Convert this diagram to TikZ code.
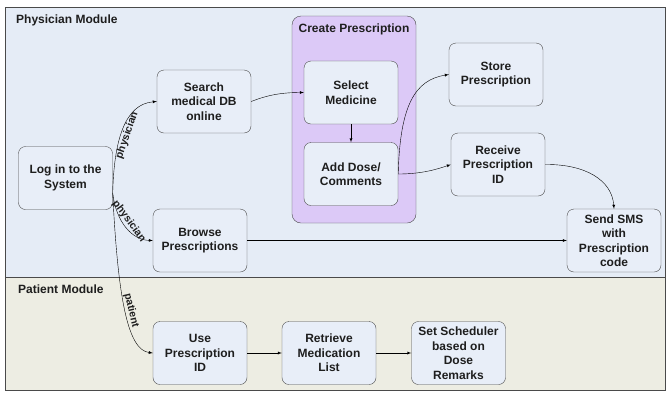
\documentclass[tikz,border=0pt]{standalone}
\usepackage{fontspec}
\setmainfont{Liberation Sans}
\usetikzlibrary{arrows}
\definecolor{physbg}{HTML}{E5ECF6}
\definecolor{patbg}{HTML}{EDEDE3}
\definecolor{groupbg}{HTML}{DCC9F7}
\definecolor{boxfill}{HTML}{E8EEF8}
\definecolor{boxline}{HTML}{4A4A4A}
\definecolor{inktext}{HTML}{1E1E1E}

\begin{document}
\begin{tikzpicture}[x=1pt,y=-1pt,
		stepbox/.style={draw=boxline, fill=boxfill, rounded corners=7pt,
			minimum width=94pt, minimum height=63pt, align=center, inner sep=1pt,
			text=inktext, font=\bfseries\fontsize{12}{14.5}\selectfont},
		flow/.style={-latex, thin},
		tag/.style={sloped, inner sep=1pt, text=inktext,
			font=\bfseries\fontsize{10.5}{12}\selectfont},
		title/.style={anchor=west, inner sep=0pt, text=inktext,
			font=\bfseries\fontsize{12}{14}\selectfont}]
	\useasboundingbox (0,0) rectangle (667,392);
	\draw[boxline, fill=physbg] (5,7) rectangle (665,277);
	\draw[boxline, fill=patbg] (5,277) rectangle (665,390);
	\node[title] (physician) at (16,20) {Physician Module};
	\node[title] (patient) at (18,289) {Patient Module};
	\draw[boxline, fill=groupbg, rounded corners=9pt] (292,16) rectangle (416,223);
	\node[title, anchor=center] (create) at (354,29) {Create Prescription};

	\node[stepbox] (login) at (65.5,178) {Log in to the\\System};
	\node[stepbox] (search) at (204,101.5) {Search\\medical DB\\online};
	\node[stepbox] (select) at (351,92.5) {Select\\Medicine};
	\node[stepbox] (dose) at (351,174) {Add Dose/\\Comments};
	\node[stepbox] (store) at (496,74.5) {Store\\Prescription};
	\node[stepbox] (receive) at (498,164.5) {Receive\\Prescription\\ID};
	\node[stepbox] (sms) at (614,240.5) {Send SMS\\with\\Prescription\\code};
	\node[stepbox] (browse) at (200,240.5) {Browse\\Prescriptions};
	\node[stepbox] (use) at (200,353) {Use\\Prescription\\ID};
	\node[stepbox] (retrieve) at (329,353) {Retrieve\\Medication\\List};
	\node[stepbox] (scheduler) at (458.5,353) {Set Scheduler\\based on\\Dose\\Remarks};

	\draw[flow] ([yshift=-15pt]login.east) .. controls (114,140) and (125,104) .. (search.west)
		node[tag, below, pos=0.45] {physician};
	\draw[flow] ([yshift=-15pt]login.east) .. controls (116,222) and (132,240) .. (browse.west)
		node[tag, above, pos=0.45] {physician};
	\draw[flow] ([yshift=-15pt]login.east) .. controls (118,300) and (128,350) .. (use.west)
		node[tag, above, pos=0.5] {patient};
	\draw[flow] (search.east) .. controls (270,94) and (285,92.5) .. (select.west);
	\draw[flow] (select) -- (dose);
	\draw[flow] (dose.east) .. controls (400,105) and (415,80) .. (store.west);
	\draw[flow] (dose.east) .. controls (420,174) and (435,170) .. (receive.west);
	\draw[flow] (receive.east) .. controls (585,164) and (612,180) .. (sms.north);
	\draw[flow] (browse) -- (sms);
	\draw[flow] (use) -- (retrieve);
	\draw[flow] (retrieve) -- (scheduler);
\end{tikzpicture}
\end{document}
